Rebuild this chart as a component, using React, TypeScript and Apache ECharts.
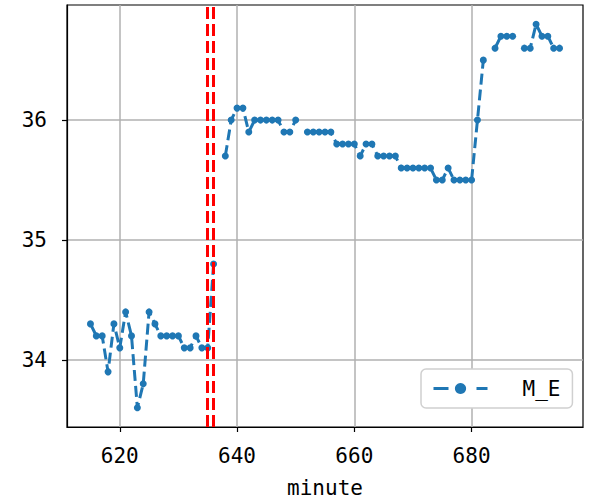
import React, { useEffect, useRef } from "react";
import * as echarts from "echarts";

const minutes: number[] = [
  615, 616, 617, 618, 619, 620, 621, 622, 623, 624, 625, 626, 627, 628, 629, 630,
  631, 632, 633, 634, 635, 636, 637, 638, 639, 640, 641, 642, 643, 644, 645, 646,
  647, 648, 649, 650, 651, 652, 653, 654, 655, 656, 657, 658, 659, 660, 661, 662,
  663, 664, 665, 666, 667, 668, 669, 670, 671, 672, 673, 674, 675, 676, 677, 678,
  679, 680, 681, 682, 683, 684, 685, 686, 687, 688, 689, 690, 691, 692, 693, 694, 695,
];
const mE: (number | null)[] = [
  34.3, 34.2, 34.2, 33.9, 34.3, 34.1, 34.4, 34.2, 33.6, 33.8, 34.4, 34.3, 34.2, 34.2, 34.2, 34.2,
  34.1, 34.1, 34.2, 34.1, 34.1, 34.8, null, 35.7, 36.0, 36.1, 36.1, 35.9, 36.0, 36.0, 36.0, 36.0,
  36.0, 35.9, 35.9, 36.0, null, 35.9, 35.9, 35.9, 35.9, 35.9, 35.8, 35.8, 35.8, 35.8, 35.7, 35.8,
  35.8, 35.7, 35.7, 35.7, 35.7, 35.6, 35.6, 35.6, 35.6, 35.6, 35.6, 35.5, 35.5, 35.6, 35.5, 35.5,
  35.5, 35.5, 36.0, 36.5, null, 36.6, 36.7, 36.7, 36.7, null, 36.6, 36.6, 36.8, 36.7, 36.7, 36.6, 36.6,
];
const eventMinutes: number[] = [635, 636];
const xTicks: number[] = [620, 640, 660, 680];
const yTicks: number[] = [34, 35, 36];
const seriesName = "M_E";
const xName = "minute";

const FONT = "'DejaVu Sans Mono', monospace";

export default function App() {
  const ref = useRef<HTMLDivElement>(null);
  useEffect(() => {
    if (!ref.current) return;
    const chart = echarts.init(ref.current, undefined, { renderer: "svg" });
    const blue = "#1f77b4";
    chart.setOption({
      animation: false,
      backgroundColor: "#ffffff",
      grid: {
        left: 67,
        right: 11,
        top: 5,
        bottom: 76,
        show: true,
        borderColor: "#000000",
        borderWidth: 1.2,
        backgroundColor: "transparent",
        containLabel: false,
        outerBoundsMode: "none",
      },
      xAxis: {
        type: "value",
        min: 611,
        max: 699,
        name: xName,
        nameLocation: "middle",
        nameGap: 50,
        nameTextStyle: { fontFamily: FONT, fontSize: 21, color: "#000" },
        axisLine: { show: true, lineStyle: { color: "#000", width: 1.2 } },
        axisTick: {
          show: true,
          customValues: xTicks,
          length: 5,
          inside: false,
          lineStyle: { color: "#000", width: 1.2 },
        },
        axisLabel: {
          customValues: xTicks,
          fontFamily: FONT,
          fontSize: 21,
          color: "#000",
          margin: 18,
        },
        splitLine: { show: true, lineStyle: { color: "#b0b0b0", width: 1.5 } },
      },
      yAxis: {
        type: "value",
        min: 33.44,
        max: 36.96,
        axisLine: { show: true, lineStyle: { color: "#000", width: 1.2 } },
        axisTick: {
          show: true,
          customValues: yTicks,
          length: 5,
          lineStyle: { color: "#000", width: 1.2 },
        },
        axisLabel: {
          customValues: yTicks,
          fontFamily: FONT,
          fontSize: 21,
          color: "#000",
          margin: 20,
        },
        splitLine: { show: true, lineStyle: { color: "#b0b0b0", width: 1.5 } },
      },
      legend: {
        left: 421,
        top: 369,
        padding: [9, 12, 9, 11],
        backgroundColor: "#ffffff",
        borderColor: "#d0d0d0",
        borderWidth: 1.5,
        borderRadius: 5,
        itemWidth: 54,
        itemHeight: 14,
        lineStyle: { type: [15, 28], width: 3, color: blue },
        textStyle: {
          fontFamily: FONT,
          fontSize: 21,
          color: "#000",
          padding: [0, 0, 0, 30],
        },
        data: [{ name: seriesName }],
      },
      series: [
        {
          name: seriesName,
          type: "line",
          data: minutes.map((m, i) => [m, mE[i]]),
          connectNulls: false,
          symbol: "circle",
          symbolSize: 7,
          showSymbol: true,
          itemStyle: { color: blue },
          lineStyle: { color: blue, width: 3, type: [11, 5] },
          z: 3,
        },
        {
          name: "events",
          type: "line",
          data: [],
          silent: true,
          z: 4,
          markLine: {
            silent: true,
            symbol: "none",
            label: { show: false },
            lineStyle: { color: "#ff0000", width: 3, type: [12, 5] },
            data: eventMinutes.map((m) => ({ xAxis: m })),
          },
        },
      ],
    });
    return () => chart.dispose();
  }, []);
  return (
    <div
      ref={ref}
      style={{ position: "absolute", left: 0, top: 0, width: 594, height: 503 }}
    />
  );
}
